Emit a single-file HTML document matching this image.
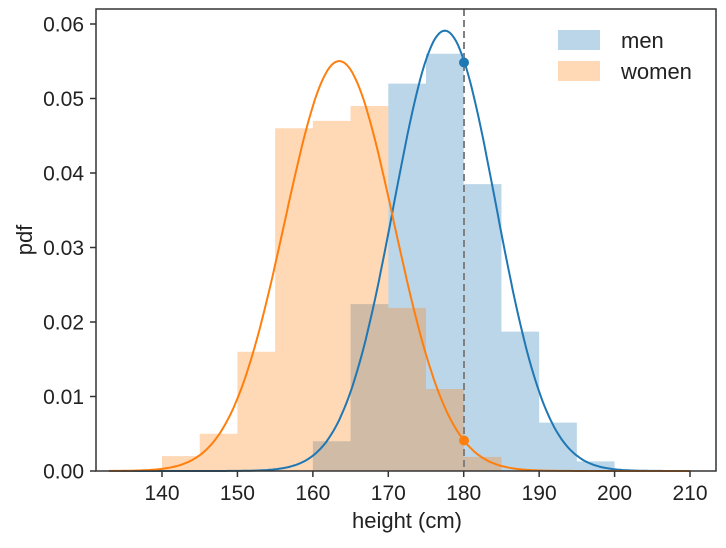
<!DOCTYPE html>
<html><head><style>body{margin:0;background:#fff}svg{font-family:"Liberation Sans",sans-serif}</style></head>
<body>
<svg id="s" width="726" height="543" xmlns="http://www.w3.org/2000/svg">
<path id="bm" fill="#1f77b4" fill-opacity="0.3"/>
<path id="bw" fill="#ff7f0e" fill-opacity="0.3"/>
<path id="cm" fill="none" stroke="#1f77b4" stroke-width="2"/>
<path id="cw" fill="none" stroke="#ff7f0e" stroke-width="2"/>
<line x1="464" y1="9" x2="464" y2="471" stroke="#808080" stroke-width="2" stroke-dasharray="7,4"/>
<circle cx="464" cy="62.5" r="5" fill="#1f77b4"/>
<circle cx="464" cy="440.5" r="5" fill="#ff7f0e"/>
<rect x="96" y="9" width="620" height="462" fill="none" stroke="#333" stroke-width="1.5"/>
<g id="ticks" stroke="#333" stroke-width="1.5"></g>
<g id="labels" font-size="21" fill="#222"></g>
<text x="407" y="528" font-size="22" text-anchor="middle" fill="#222">height (cm)</text>
<text transform="translate(32,240) rotate(-90)" font-size="22" text-anchor="middle" fill="#222">pdf</text>
<rect x="558" y="30" width="42" height="20" fill="#1f77b4" fill-opacity="0.3"/>
<text x="621" y="48" font-size="22" fill="#222">men</text>
<rect x="558" y="61" width="42" height="20" fill="#ff7f0e" fill-opacity="0.3"/>
<text x="621" y="79" font-size="22" fill="#222">women</text>
</svg>
<script>
const X=v=>162+(v-140)*7.543, Y=v=>471-v*7450;
const ns="http://www.w3.org/2000/svg";
function hist(id,bs){let d="M"+X(bs[0][0])+",471";bs.forEach(b=>{d+="L"+X(b[0])+","+Y(b[1])+"L"+X(b[0]+5)+","+Y(b[1]);});d+="L"+X(bs[bs.length-1][0]+5)+",471Z";document.getElementById(id).setAttribute("d",d);}
hist("bm",[[160,.004],[165,.0224],[170,.052],[175,.056],[180,.0385],[185,.0187],[190,.0065],[195,.0013]]);
hist("bw",[[140,.002],[145,.005],[150,.016],[155,.046],[160,.047],[165,.049],[170,.0219],[175,.011],[180,.0019]]);
function curve(id,m,s){let d="";for(let x=133;x<=210;x+=0.25){const y=Math.exp(-0.5*((x-m)/s)**2)/(s*2.5066);d+=(d?"L":"M")+X(x).toFixed(1)+","+Y(y).toFixed(1);}document.getElementById(id).setAttribute("d",d);}
curve("cm",177.5,6.75);curve("cw",163.5,7.25);
const T=document.getElementById("ticks"),L=document.getElementById("labels");
function ln(a,b,c,d){const l=document.createElementNS(ns,"line");l.setAttribute("x1",a);l.setAttribute("y1",b);l.setAttribute("x2",c);l.setAttribute("y2",d);T.appendChild(l);}
function tx(x,y,t,anc){const e=document.createElementNS(ns,"text");e.setAttribute("x",x);e.setAttribute("y",y);e.setAttribute("text-anchor",anc);e.textContent=t;L.appendChild(e);}
for(let v=140;v<=210;v+=10){ln(X(v),471,X(v),477);tx(X(v),500,v,"middle");}
for(let i=0;i<=6;i++){const v=i/100;ln(96,Y(v),90,Y(v));tx(84,Y(v)+7.5,v.toFixed(2),"end");}
</script>
</body></html>
